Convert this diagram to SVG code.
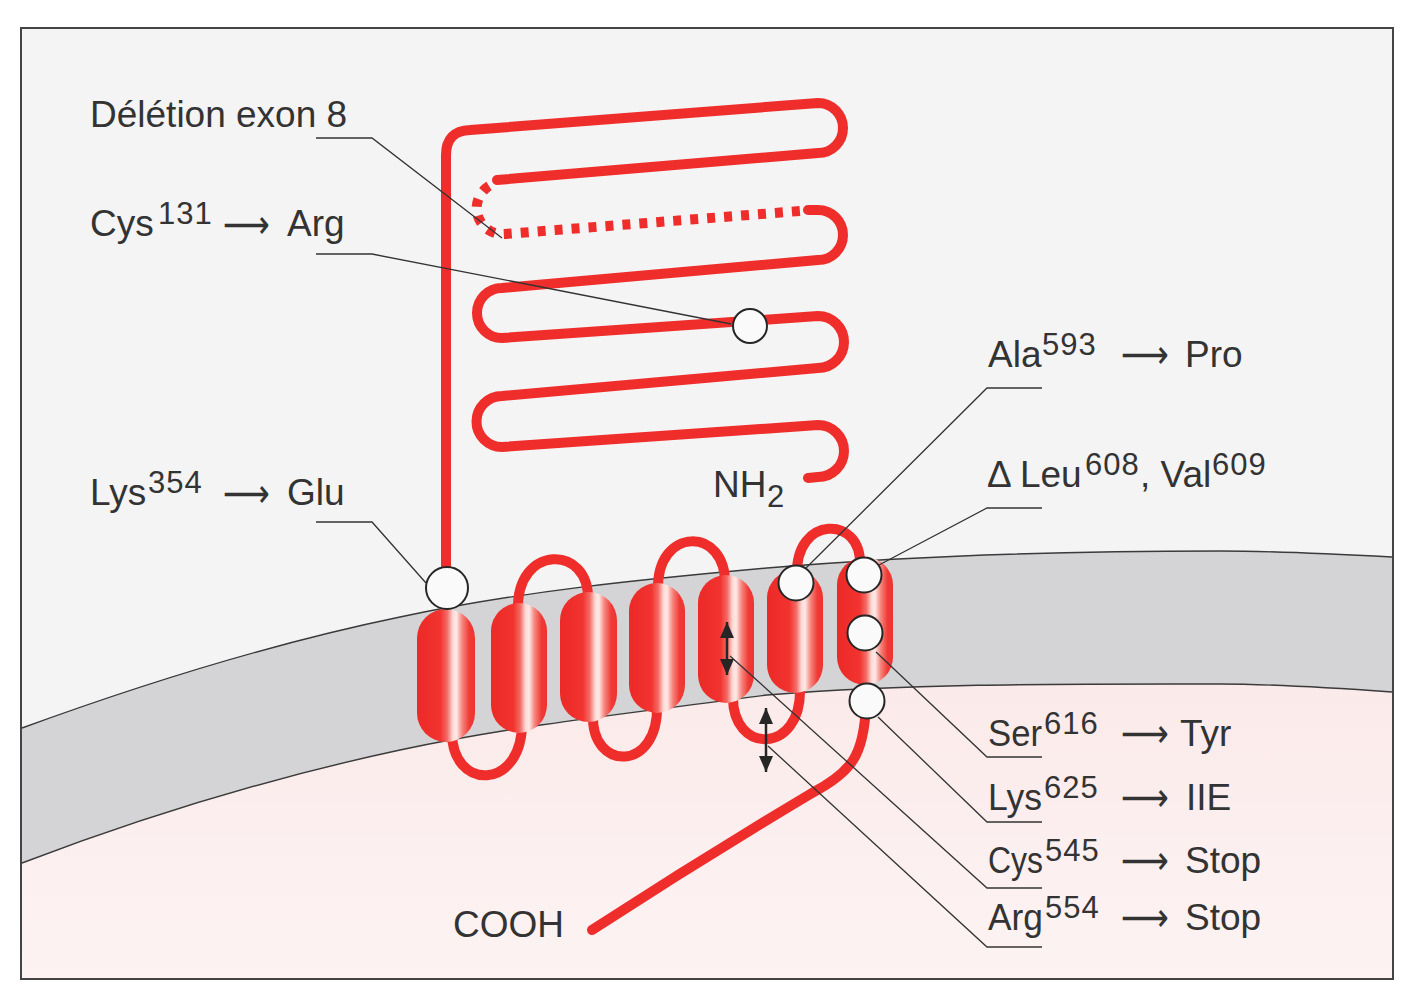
<svg xmlns="http://www.w3.org/2000/svg" width="1412" height="992" viewBox="0 0 1412 992">
<style>
.rl{fill:none;stroke:#ef2e2c;stroke-width:10;stroke-linecap:round;stroke-linejoin:round}
.dot{fill:none;stroke:#ef2e2c;stroke-width:10;stroke-dasharray:8 9}
.hx{fill:url(#hg)}
.site{fill:#fafafa;stroke:#262626;stroke-width:2}
.ld{fill:none;stroke:#333;stroke-width:1.3}
.edge{fill:none;stroke:#3a3a3a;stroke-width:1.4}
.t{font-family:"Liberation Sans",Arial,sans-serif;font-size:37px;fill:#333}
.s{font-family:"Liberation Sans",Arial,sans-serif;font-size:31px;fill:#333;letter-spacing:1px}
.a{font-family:"DejaVu Sans",sans-serif;font-size:40px;fill:#333}
.da{stroke:#262626;stroke-width:2.5;marker-start:url(#ah);marker-end:url(#ah)}
</style>
<defs>
<linearGradient id="hg" x1="0" y1="0" x2="1" y2="0">
<stop offset="0" stop-color="#ec2a28"/>
<stop offset="0.4" stop-color="#f2332f"/>
<stop offset="0.52" stop-color="#f46a64"/>
<stop offset="0.62" stop-color="#fcdcd8"/>
<stop offset="0.68" stop-color="#fde9e6"/>
<stop offset="0.78" stop-color="#f6857e"/>
<stop offset="0.9" stop-color="#f03a35"/>
<stop offset="1" stop-color="#ee3330"/>
</linearGradient>
<linearGradient id="pink" x1="0" y1="0" x2="0" y2="1">
<stop offset="0" stop-color="#fbeaea"/>
<stop offset="1" stop-color="#fdf3f3"/>
</linearGradient>
<marker id="ah" markerUnits="userSpaceOnUse" viewBox="0 0 16 16" markerWidth="16" markerHeight="16" refX="16" refY="8" orient="auto-start-reverse">
<path d="M0,1 L16,8 L0,15 z" fill="#262626"/>
</marker>
</defs>

<rect width="1412" height="992" fill="#ffffff"/>
<g id="background">
<rect x="21" y="28" width="1372" height="951" fill="#f4f4f4"/>
<path d="M22,863 C148,815 274,777 400,750 C522,724 645,711.5 767,695 C918,683 1069,684 1220,684 C1277,684 1335,688 1392,692 L1392,979 L22,979 Z" fill="url(#pink)"/>
</g>
<g id="membrane">
<path d="M22,728 C148,682 274,643 400,617 C522,591 645,579 767,568 C918,555 1069,551 1220,551 C1277,551 1335,554 1392,557 L1392,692 C1335,688 1277,684 1220,684 C1069,684 918,683 767,695 C645,711.5 522,724 400,750 C274,777 148,815 22,863 Z" fill="#d4d4d6"/>
<path class="edge" d="M22,728 C148,682 274,643 400,617 C522,591 645,579 767,568 C918,555 1069,551 1220,551 C1277,551 1335,554 1392,557"/>
<path class="edge" d="M22,863 C148,815 274,777 400,750 C522,724 645,711.5 767,695 C918,683 1069,684 1220,684 C1277,684 1335,688 1392,692"/>
</g>
<rect x="21" y="28" width="1372" height="951" fill="none" stroke="#444" stroke-width="2"/>

<g id="extracellular-domain">
<path class="rl" d="M446,567 L446,155 Q446,131 470,130 L818,103 A25,25 0 0 1 818,153 L497,180"/>
<path class="dot" d="M489,186 A26,26 0 0 0 505,234 L800,211"/>
<path class="rl" d="M808,210 L818,210 A25,25 0 0 1 818,260 L502,288 A25,25 0 0 0 502,338 L818,316 A26,26 0 0 1 818,368 L502,396 A25.5,25.5 0 0 0 502,447 L818,425 A26,26 0 0 1 818,477 L808,478"/>
</g>

<g id="loops">
<path class="rl" d="M452,730 C450,792 524,792 522,720"/>
<path class="rl" d="M518,610 C516,544 590,544 588,600"/>
<path class="rl" d="M593,715 C591,772 659,772 657,705"/>
<path class="rl" d="M658,590 C656,526 727,526 725,585"/>
<path class="rl" d="M733,695 C731,755 802,755 800,688"/>
<path class="rl" d="M797,575 C795,515 862,515 860,565"/>
<path class="rl" d="M866,705 C864,755 852,772 812,793 Q700,860 592,930"/>
</g>

<g id="helices">
<rect id="tm1" class="hx" x="417" y="609" width="58" height="133" rx="29"/>
<rect id="tm2" class="hx" x="491" y="603" width="56" height="130" rx="28"/>
<rect id="tm3" class="hx" x="560" y="592" width="57" height="130" rx="28.5"/>
<rect id="tm4" class="hx" x="629" y="583" width="56" height="130" rx="28"/>
<rect id="tm5" class="hx" x="698" y="575" width="56" height="128" rx="28"/>
<rect id="tm6" class="hx" x="767" y="570" width="56" height="123" rx="28"/>
<rect id="tm7" class="hx" x="837" y="557" width="56" height="128" rx="28"/>
</g>

<g id="sites">
<circle id="site-cys131" class="site" cx="750" cy="326" r="17"/>
<circle id="site-lys354" class="site" cx="447" cy="588" r="21"/>
<circle id="site-ala593" class="site" cx="796" cy="583" r="17.5"/>
<circle id="site-leu608" class="site" cx="864" cy="575" r="17.5"/>
<circle id="site-ser616" class="site" cx="865" cy="633" r="17.5"/>
<circle id="site-lys625" class="site" cx="867" cy="701" r="17.5"/>
<line id="site-cys545" class="da" x1="727" y1="622" x2="727" y2="675"/>
<line id="site-arg554" class="da" x1="766" y1="708" x2="766" y2="772"/>
</g>

<g id="connectors">
<polyline class="ld" points="316,138 372,138 502,238"/>
<polyline class="ld" points="316,254 372,254 731,324"/>
<polyline class="ld" points="316,522 372,522 426,583"/>
<polyline class="ld" points="1042,388 987,388 806,568"/>
<polyline class="ld" points="1042,508 987,508 879,565"/>
<polyline class="ld" points="1042,757 987,757 876,652"/>
<polyline class="ld" points="1042,822 987,822 878,717"/>
<polyline class="ld" points="1042,888 987,888 730,656"/>
<polyline class="ld" points="1042,947 987,947 768,746"/>
</g>

<g id="labels">
<text class="t" x="90" y="127">Délétion exon 8</text>
<g id="label-cys131">
<text class="t" x="90" y="236">Cys</text><text class="s" x="158" y="224">131</text>
<text class="a" x="223" y="238" textLength="47" lengthAdjust="spacingAndGlyphs">⟶</text>
<text class="t" x="287" y="236">Arg</text>
</g>
<g id="label-lys354">
<text class="t" x="90" y="505">Lys</text><text class="s" x="148" y="493">354</text>
<text class="a" x="223" y="507" textLength="47" lengthAdjust="spacingAndGlyphs">⟶</text>
<text class="t" x="287" y="505">Glu</text>
</g>
<g id="label-nh2">
<text class="t" x="713" y="497">NH</text><text class="s" x="767" y="507">2</text>
</g>
<text id="label-cooh" class="t" x="453" y="937">COOH</text>
<g id="label-ala593">
<text class="t" x="988" y="367">Ala</text><text class="s" x="1042" y="355">593</text>
<text class="a" x="1121" y="368" textLength="48" lengthAdjust="spacingAndGlyphs">⟶</text>
<text class="t" x="1185" y="367">Pro</text>
</g>
<g id="label-leu608">
<text class="t" x="987" y="487">Δ Leu</text><text class="s" x="1085" y="475">608</text>
<text class="t" x="1140" y="487">, Val</text><text class="s" x="1212" y="475">609</text>
</g>
<g id="label-ser616">
<text class="t" x="988" y="746" textLength="54" lengthAdjust="spacingAndGlyphs">Ser</text><text class="s" x="1044" y="734">616</text>
<text class="a" x="1121" y="747" textLength="48" lengthAdjust="spacingAndGlyphs">⟶</text>
<text class="t" x="1180" y="746">Tyr</text>
</g>
<g id="label-lys625">
<text class="t" x="988" y="810" textLength="54" lengthAdjust="spacingAndGlyphs">Lys</text><text class="s" x="1044" y="798">625</text>
<text class="a" x="1121" y="811" textLength="48" lengthAdjust="spacingAndGlyphs">⟶</text>
<text class="t" x="1186" y="810">IIE</text>
</g>
<g id="label-cys545">
<text class="t" x="988" y="873" textLength="55" lengthAdjust="spacingAndGlyphs">Cys</text><text class="s" x="1045" y="861">545</text>
<text class="a" x="1121" y="874" textLength="48" lengthAdjust="spacingAndGlyphs">⟶</text>
<text class="t" x="1185" y="873">Stop</text>
</g>
<g id="label-arg554">
<text class="t" x="988" y="930" textLength="55" lengthAdjust="spacingAndGlyphs">Arg</text><text class="s" x="1045" y="918">554</text>
<text class="a" x="1121" y="931" textLength="48" lengthAdjust="spacingAndGlyphs">⟶</text>
<text class="t" x="1185" y="930">Stop</text>
</g>
</g>
</svg>
